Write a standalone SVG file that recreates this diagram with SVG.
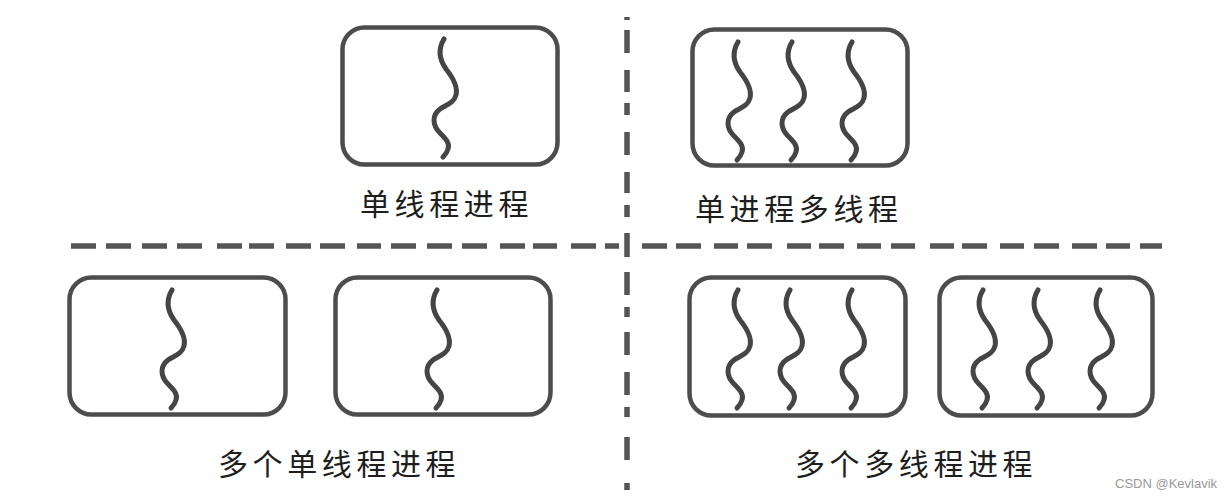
<svg xmlns="http://www.w3.org/2000/svg" xmlns:xlink="http://www.w3.org/1999/xlink" width="1231" height="499" viewBox="0 0 1231 499">
<style>
.box{fill:none;stroke:#4d4d4d;stroke-width:4.5;filter:url(#soft)}
.thr{fill:none;stroke:#444;stroke-width:5;stroke-linecap:round;stroke-linejoin:round;filter:url(#soft)}
.dash{fill:none;stroke:#555;stroke-width:5.5;filter:url(#softU)}
.lbl{font-family:"Noto Sans CJK SC","Noto Sans",sans-serif;font-size:30px;letter-spacing:4.6px;fill:#1e1e1e}
.wm{font-family:"Liberation Sans",Arial,sans-serif;font-size:13px;fill:#9a9a9a}
</style>
<defs>
<filter id="soft" x="-20%" y="-20%" width="140%" height="140%"><feGaussianBlur stdDeviation="0.7"/></filter>
<filter id="softU" filterUnits="userSpaceOnUse" x="0" y="0" width="1231" height="499"><feGaussianBlur stdDeviation="0.7"/></filter>
<path id="thread" d="M0,0 C-6,10 -5,20 2,30 C10,40 14,48 12,56 C10,64 2,66 -4,70 C-12,76 -12,86 -4,94 C2,100 6,104 4,110 C3,114 1,116 -1,118"/>
</defs>
<rect width="1231" height="499" fill="#fff"/>
<g id="dividers">
<path class="dash" d="M627,17 V20 M627,30 V53 M627,70 V92 M627,103 V115 M627,132 V155 M627,172 V193 M627,205 V217 M627,233 V257 M627,272 V295 M627,307 V317 M627,332 V355 M627,372 V395 M627,407 V417 M627,437 V460 M627,483 V490"/>
<path class="dash" d="M71,246 H96 M106,246 H131 M142,246 H167 M177,246 H202 M217,246 H242 M249,246 H274 M286,246 H311 M320,246 H345 M357,246 H381 M391,246 H416 M427,246 H452 M462,246 H487 M500,246 H525 M533,246 H557 M571,246 H596 M605,246 H619"/>
<path class="dash" d="M642,246 H667 M676,246 H701 M714,246 H738 M747,246 H772 M787,246 H811 M819,246 H844 M857,246 H881 M891,246 H915 M930,246 H954 M962,246 H987 M1000,246 H1024 M1034,246 H1059 M1072,246 H1097 M1106,246 H1130 M1140,246 H1162"/>
</g>
<g id="single-thread-process">
<rect class="box" x="342.5" y="27.5" width="215" height="137" rx="22"/>
<use class="thr" xlink:href="#thread" x="444" y="39"/>
<text class="lbl" x="360" y="215">单线程进程</text>
</g>
<g id="single-process-multi-thread">
<rect class="box" x="692.5" y="29.5" width="215" height="136" rx="22"/>
<use class="thr" xlink:href="#thread" x="738" y="42"/>
<use class="thr" xlink:href="#thread" x="792" y="42"/>
<use class="thr" xlink:href="#thread" x="852" y="42"/>
<text class="lbl" x="695" y="220">单进程多线程</text>
</g>
<g id="multi-single-thread-process">
<rect class="box" x="69.5" y="277.5" width="216" height="137" rx="22"/>
<use class="thr" xlink:href="#thread" x="172" y="290"/>
<rect class="box" x="335.5" y="277.5" width="215" height="137" rx="22"/>
<use class="thr" xlink:href="#thread" x="437" y="290"/>
<text class="lbl" x="218" y="475">多个单线程进程</text>
</g>
<g id="multi-multi-thread-process">
<rect class="box" x="689.5" y="277.5" width="216" height="138" rx="22"/>
<use class="thr" xlink:href="#thread" x="738" y="290"/>
<use class="thr" xlink:href="#thread" x="790" y="290"/>
<use class="thr" xlink:href="#thread" x="852" y="290"/>
<rect class="box" x="939.5" y="277.5" width="213" height="138" rx="22"/>
<use class="thr" xlink:href="#thread" x="983" y="290"/>
<use class="thr" xlink:href="#thread" x="1038" y="290"/>
<use class="thr" xlink:href="#thread" x="1100" y="290"/>
<text class="lbl" x="795" y="475">多个多线程进程</text>
</g>
<text class="wm" x="1115" y="488">CSDN @Kevlavik</text>
</svg>
